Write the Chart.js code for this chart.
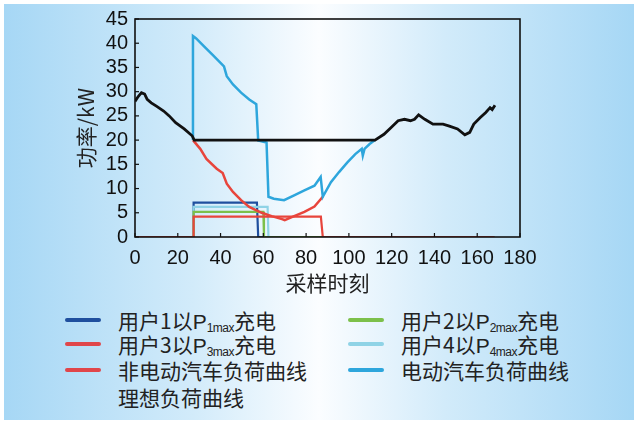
<!DOCTYPE html>
<html lang="zh">
<head>
    <meta charset="UTF-8">
    <title>负荷曲线</title>
    <script src="https://cdn.jsdelivr.net/npm/chart.js"></script>
    <style>
        body { margin: 0; background: #fff; width: 640px; height: 425px; overflow: hidden; }
        .panel {
            position: absolute; left: 4px; top: 4px; width: 630px; height: 416px;
            background: linear-gradient(to right, #a6d7f5 0%, #d2ebfa 30%, #fbfdff 50%, #d2ebfa 70%, #a6d7f5 100%);
        }
        .chart-box { position: absolute; left: 0; top: 0; width: 640px; height: 300px; }
        .leyenda { position: absolute; left: 0; top: 0; font-family: "Noto Sans CJK SC", sans-serif; font-size: 21px; color: #222; }
        .item { position: absolute; height: 26px; line-height: 26px; white-space: nowrap; }
        .item i { position: absolute; left: 0; top: 11px; width: 36px; height: 4px; border-radius: 2px; }
        .item span.t { position: absolute; left: 53px; top: 0; }
        .sub { font-family: "Liberation Sans", sans-serif; font-size: 12px; vertical-align: -3px; letter-spacing: -0.5px; }
        .p { font-family: "Liberation Sans", sans-serif; font-size: 21px; }
    </style>
</head>
<body>
    <div class="panel"></div>
    <div class="chart-box"><canvas id="grafico" width="640" height="300"></canvas></div>
    <div class="leyenda" id="leyenda"></div>

    <script>
        // ideal load curve (black)
        const idealX = [0, 1.5, 3, 4.5, 5.7, 7.6, 10, 13.4, 16, 19, 23, 26.7, 27.7, 112.2, 116.4, 120, 123, 126, 128.8, 130.7, 132.6, 135.5, 139.3, 144, 147, 150.8, 154.2, 156.5, 158.4, 161.3, 164, 166, 167, 168.3];
        const idealY = [28, 29, 29.8, 29.5, 28.4, 27.7, 27, 26, 25, 23.6, 22.3, 20.9, 20, 20, 21.2, 22.7, 24, 24.3, 24, 24.3, 25.2, 24.3, 23.3, 23.3, 22.9, 22.3, 21.1, 21.6, 23.3, 24.6, 25.7, 26.7, 26.3, 27.2];

        // EV load curve (blue)
        const evX = [27.1, 27.1, 28.6, 32.4, 36.3, 41.6, 42.9, 45.8, 49.6, 53.4, 56.7, 57.6, 61.5, 62.4, 64.9, 69.7, 74.4, 79.2, 83.9, 86.8, 87.8, 91.6, 95.4, 99.3, 103, 106, 106.5, 107.3, 109.7, 112.2];
        const evY = [20, 41.5, 41, 39.3, 37.6, 35.2, 33.2, 31.5, 29.8, 28.4, 27.4, 19.9, 19.5, 8.3, 7.9, 7.6, 8.6, 9.6, 10.6, 12.4, 8.3, 11.3, 13.4, 15.4, 17.1, 18.2, 16.8, 18.2, 19.2, 20];

        // non-EV load curve (red)
        const baseX = [27.1, 30.5, 33.4, 38.2, 41, 42.9, 45.8, 49.6, 53.4, 59.2, 63.9, 68.7, 70, 74.4, 79.2, 83.9, 87.8];
        const baseY = [20, 18.2, 16.1, 14.1, 13.2, 11, 9.3, 7.6, 6.2, 5, 4.3, 3.7, 3.5, 4.3, 5.2, 6.3, 8.3];

        // user charging
        const u1X = [0, 27.4, 27.4, 57, 57.6, 168];
        const u1Y = [0, 0, 7.1, 7.1, 0, 0];
        const u2X = [0, 27.4, 27.4, 60, 60.3, 168];
        const u2Y = [0, 0, 5.2, 5.2, 0, 0];
        const u3X = [0, 27.4, 27.4, 86.9, 87.8, 168];
        const u3Y = [0, 0, 4.2, 4.2, 0, 0];
        const u4X = [0, 27.4, 27.4, 62, 62.4, 168];
        const u4Y = [0, 0, 6.2, 6.2, 0, 0];

        const xTicks = [0, 20, 40, 60, 80, 100, 120, 140, 160, 180];
        const yTicks = [0, 5, 10, 15, 20, 25, 30, 35, 40, 45];

        const puntos = (xs, ys) => xs.map((x, i) => ({ x: x, y: ys[i] }));

        const serie = (label, xs, ys, color, width, order) => ({
            label: label,
            data: puntos(xs, ys),
            borderColor: color,
            borderWidth: width,
            pointRadius: 0,
            fill: false,
            tension: 0,
            order: order
        });

        // frame + inward ticks
        const marco = {
            id: 'marco',
            afterDraw(chart) {
                const ctx = chart.ctx;
                const a = chart.chartArea;
                ctx.save();
                ctx.strokeStyle = '#111';
                ctx.lineWidth = 1.6;
                ctx.strokeRect(a.left, a.top, a.right - a.left, a.bottom - a.top);
                ctx.lineWidth = 1.2;
                const sx = chart.scales.x, sy = chart.scales.y;
                xTicks.forEach(v => {
                    const px = sx.getPixelForValue(v);
                    ctx.beginPath(); ctx.moveTo(px, a.bottom); ctx.lineTo(px, a.bottom - 4); ctx.stroke();
                });
                yTicks.forEach(v => {
                    const py = sy.getPixelForValue(v);
                    ctx.beginPath(); ctx.moveTo(a.left, py); ctx.lineTo(a.left + 4, py); ctx.stroke();
                });
                ctx.restore();
            }
        };

        new Chart(document.getElementById('grafico').getContext('2d'), {
            type: 'line',
            data: {
                datasets: [
                    serie('理想负荷曲线', idealX, idealY, '#111111', 2.8, 1),
                    serie('电动汽车负荷曲线', evX, evY, '#2ea6dc', 2.5, 2),
                    serie('非电动汽车负荷曲线', baseX, baseY, '#e8453c', 2.5, 3),
                    serie('用户3', u3X, u3Y, '#e8453c', 2.2, 4),
                    serie('用户2', u2X, u2Y, '#7cc04a', 2.2, 5),
                    serie('用户4', u4X, u4Y, '#8fd3e6', 2.2, 6),
                    serie('用户1', u1X, u1Y, '#1f4f9e', 2.2, 7)
                ]
            },
            options: {
                responsive: false,
                animation: false,
                layout: { padding: { top: 17, right: 120, left: 69, bottom: 0 } },
                plugins: { legend: { display: false }, tooltip: { enabled: false } },
                scales: {
                    x: {
                        type: 'linear', min: 0, max: 180,
                        afterBuildTicks: s => { s.ticks = xTicks.map(v => ({ value: v })); },
                        grid: { display: false, drawTicks: false },
                        border: { display: false },
                        ticks: { color: '#111', padding: 9, maxRotation: 0, autoSkip: false, font: { family: 'Liberation Sans', size: 20 } },
                        title: { display: true, text: '采样时刻', color: '#222', padding: { top: 0 }, font: { family: 'Noto Sans CJK SC', size: 21 } },
                        afterFit: s => { s.height = 63; }
                    },
                    y: {
                        min: 0, max: 45,
                        afterBuildTicks: s => { s.ticks = yTicks.map(v => ({ value: v })); },
                        grid: { display: false, drawTicks: false },
                        border: { display: false },
                        ticks: { color: '#111', padding: 7, autoSkip: false, font: { family: 'Liberation Sans', size: 20 } },
                        title: { display: true, text: '功率/kW', color: '#222', padding: { bottom: 0 }, font: { family: 'Noto Sans CJK SC', size: 21 } },
                        afterFit: s => { s.width = 66; }
                    }
                }
            },
            plugins: [marco]
        });

        // legend (html, for the subscripts)
        const leyenda = [
            { html: '用户1以<span class="p">P</span><span class="sub">1max</span>充电', color: '#1f4f9e', x: 65, y: 307 },
            { html: '用户2以<span class="p">P</span><span class="sub">2max</span>充电', color: '#7cc04a', x: 348, y: 307 },
            { html: '用户3以<span class="p">P</span><span class="sub">3max</span>充电', color: '#e0464a', x: 65, y: 331 },
            { html: '用户4以<span class="p">P</span><span class="sub">4max</span>充电', color: '#8fd3e6', x: 348, y: 331 },
            { html: '非电动汽车负荷曲线', color: '#e0464a', x: 65, y: 357 },
            { html: '电动汽车负荷曲线', color: '#2ea6dc', x: 348, y: 357 },
            { html: '理想负荷曲线', color: null, x: 65, y: 384 }
        ];
        const cont = document.getElementById('leyenda');
        leyenda.forEach(e => {
            const d = document.createElement('div');
            d.className = 'item';
            d.style.left = e.x + 'px';
            d.style.top = e.y + 'px';
            d.innerHTML = (e.color ? '<i style="background:' + e.color + '"></i>' : '') + '<span class="t">' + e.html + '</span>';
            cont.appendChild(d);
        });
    </script>
</body>
</html>
